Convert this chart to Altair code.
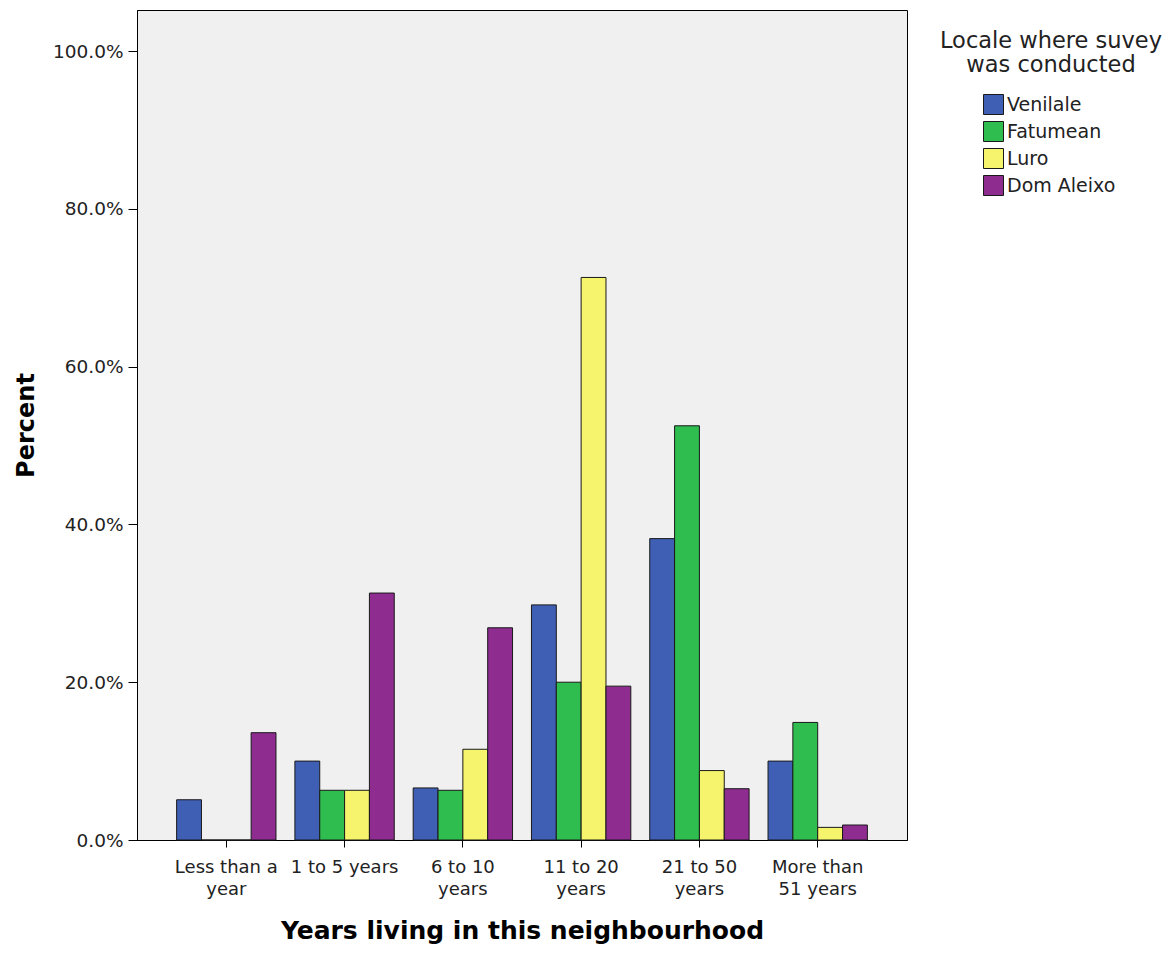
import altair as alt
import pandas as pd

categories = ["Less than a year", "1 to 5 years", "6 to 10 years",
              "11 to 20 years", "21 to 50 years", "More than 51 years"]
category_lines = [["Less than a", "year"], ["1 to 5 years"], ["6 to 10", "years"],
                  ["11 to 20", "years"], ["21 to 50", "years"], ["More than", "51 years"]]
locales = ["Venilale", "Fatumean", "Luro", "Dom Aleixo"]
venilale = [5.1, 10.0, 6.6, 29.8, 38.2, 10.0]
fatumean = [0.0, 6.3, 6.3, 20.0, 52.5, 14.9]
luro = [0.0, 6.3, 11.5, 71.3, 8.8, 1.6]
dom_aleixo = [13.6, 31.3, 26.9, 19.5, 6.5, 1.9]
colors = ["#3f5fb4", "#2ebd4e", "#f6f46c", "#8e2c90"]
y_ticks = [0, 20, 40, 60, 80, 100]
legend_title = "Locale where suvey\nwas conducted"

series = [venilale, fatumean, luro, dom_aleixo]
rows = []
for loc, vals in zip(locales, series):
    for cat, v in zip(categories, vals):
        rows.append({"cat": cat, "locale": loc, "value": v})
df = pd.DataFrame(rows)

# multi-line tick labels
expr = "datum.label"
for cat, lines in reversed(list(zip(categories, category_lines))):
    arr = "[" + ",".join("'" + l + "'" for l in lines) + "]"
    expr = f"datum.value == '{cat}' ? {arr} : ({expr})"

FONT = "DejaVu Sans"

bars = alt.Chart(df).mark_bar(stroke="#1a1a1a", strokeWidth=1).encode(
    x=alt.X("cat:N", sort=categories,
            scale=alt.Scale(paddingInner=0.16, paddingOuter=0.335),
            axis=alt.Axis(title="Years living in this neighbourhood",
                          labelAngle=0, labelExpr=expr, labelLineHeight=22,
                          labelFontSize=18, labelFont=FONT, labelColor="#222222",
                          labelPadding=11, tickSize=7, tickColor="black",
                          domainColor="black", titleFont=FONT, titleFontSize=25,
                          titleFontWeight="bold", titleColor="black",
                          titlePadding=20)),
    xOffset=alt.XOffset("locale:N", sort=locales, scale=alt.Scale(paddingInner=0, paddingOuter=0)),
    y=alt.Y("value:Q", scale=alt.Scale(domain=[0, 105.2], nice=False),
            axis=alt.Axis(title="Percent", values=y_ticks,
                          labelExpr="format(datum.value, '.1f') + '%'",
                          labelFontSize=18.5, labelFont=FONT, labelColor="#222222",
                          labelPadding=5, tickSize=9, tickColor="black",
                          domainColor="black", grid=False,
                          titleFont=FONT, titleFontSize=24, titleFontWeight="bold",
                          titleColor="black", titleX=-111, titleY=415,
                          titleBaseline="middle", titleAlign="center")),
    color=alt.Color("locale:N", sort=locales,
                    scale=alt.Scale(domain=locales, range=colors),
                    legend=alt.Legend(title=None, orient="none", legendX=846, legendY=84,
                                      symbolType="square", symbolSize=400,
                                      symbolStrokeColor="#1a1a1a", symbolStrokeWidth=1,
                                      symbolOpacity=1, labelFont=FONT, labelFontSize=19,
                                      labelColor="#222222", labelOffset=3, rowPadding=2)),
)

title_df = pd.DataFrame({"t": [legend_title]})
legend_text = alt.Chart(title_df).mark_text(
    font=FONT, fontSize=22.5, color="#222222", lineBreak="\n", lineHeight=24,
    align="center", baseline="middle"
).encode(text="t:N", x=alt.value(914), y=alt.value(31))

chart = alt.layer(bars, legend_text).properties(
    width=770, height=830,
    autosize=alt.AutoSizeParams(type="none"),
    padding={"left": 129, "top": 2, "right": 260, "bottom": 105},
    background="white",
).configure_view(stroke="black", strokeWidth=1, fill="#f0f0f0")

chart.save("out.html", embed_options={"renderer": "svg", "actions": False})
